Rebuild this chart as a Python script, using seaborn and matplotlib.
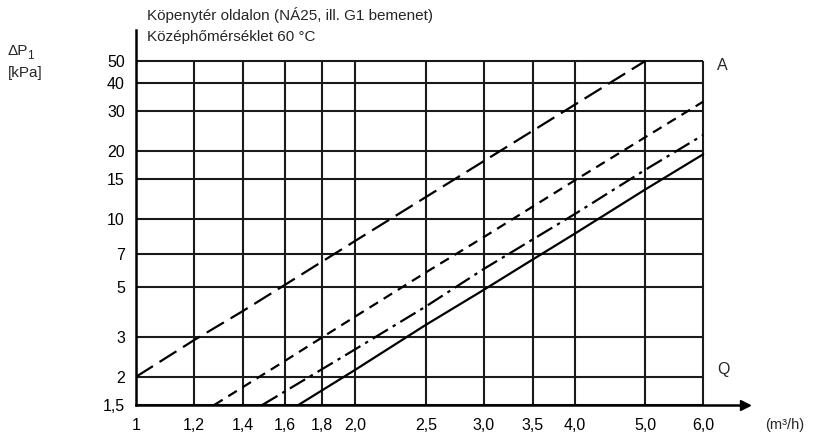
import numpy as np
import pandas as pd
import matplotlib
matplotlib.use("Agg")
import matplotlib.pyplot as plt
from matplotlib.ticker import FixedLocator, NullLocator
import seaborn as sns

# values (Q in m3/h, dP in kPa)
q_a = [1.0, 1.2, 1.4, 1.6, 2.0, 2.5, 3.0, 4.0, 5.0]
dp_a = [2.0, 2.9, 3.9, 5.1, 8.0, 12.5, 18.0, 32.0, 50.0]

q_b = [1.28, 1.6, 2.0, 2.5, 3.0, 4.0, 5.0, 6.0]
dp_b = [1.5, 2.35, 3.7, 5.8, 8.3, 14.8, 23.0, 33.0]

q_c = [1.49, 2.0, 2.5, 3.0, 4.0, 5.0, 6.0]
dp_c = [1.5, 2.65, 4.1, 6.0, 10.5, 16.5, 23.5]

q_d = [1.67, 2.0, 2.5, 3.0, 3.5, 4.0, 5.0, 6.0]
dp_d = [1.5, 2.15, 3.4, 4.85, 6.6, 8.6, 13.5, 19.3]

x_ticks = [1, 1.2, 1.4, 1.6, 1.8, 2.0, 2.5, 3.0, 3.5, 4.0, 5.0, 6.0]
x_labels = ["1", "1,2", "1,4", "1,6", "1,8", "2,0", "2,5", "3,0", "3,5", "4,0", "5,0", "6,0"]
y_ticks = [1.5, 2, 3, 5, 7, 10, 15, 20, 30, 40, 50]
y_labels = ["1,5", "2", "3", "5", "7", "10", "15", "20", "30", "40", "50"]

sns.set_style("white")
plt.rcParams["font.family"] = ["Liberation Sans", "DejaVu Sans"]

fig = plt.figure(figsize=(8.23, 4.4), dpi=100)
ax = fig.add_axes([0.1653, 0.0795, 0.740, 0.852])
ax.set_xscale("log")
ax.set_yscale("log")
ax.set_xlim(1.0, 6.85)
ax.set_ylim(1.5, 68.4)

# grid only over the 1..6 / 1.5..50 area
ax.hlines(y_ticks, 1.0, 6.0, color="#1a1a1a", lw=1.5, zorder=1)
ax.vlines(x_ticks, 1.5, 50, color="#1a1a1a", lw=1.5, zorder=1)

# curves
curves = [
    (q_a, dp_a, (0, (9, 3.5))),
    (q_b, dp_b, (0, (4.5, 3))),
    (q_c, dp_c, (0, (8, 2.5, 1.5, 2.5))),
    (q_d, dp_d, "-"),
]
for q, dp, ls in curves:
    df = pd.DataFrame({"Q": q, "dP": dp})
    sns.lineplot(data=df, x="Q", y="dP", ax=ax, color="black", lw=1.6,
                 linestyle=ls, zorder=3)

ax.xaxis.set_major_locator(FixedLocator(x_ticks))
ax.xaxis.set_minor_locator(NullLocator())
ax.set_xticklabels(x_labels)
ax.yaxis.set_major_locator(FixedLocator(y_ticks))
ax.yaxis.set_minor_locator(NullLocator())
ax.set_yticklabels(y_labels)
ax.tick_params(axis="both", length=5, width=1.5, color="#1a1a1a",
               labelsize=11.5, labelcolor="black", pad=3)
ax.tick_params(axis="x", pad=4)
ax.set_xlabel("")
ax.set_ylabel("")

for s in ["top", "right"]:
    ax.spines[s].set_visible(False)
for s in ["left", "bottom"]:
    ax.spines[s].set_color("black")
    ax.spines[s].set_linewidth(1.8)
ax.plot(1, 0, ">", color="black", ms=7, transform=ax.transAxes, clip_on=False)

fs = 11
fig.text(147 / 823, 1 - 15 / 440, "Köpenytér oldalon (NÁ25, ill. G1 bemenet)",
         fontsize=fs, va="center", ha="left")
fig.text(147 / 823, 1 - 37 / 440, "Középhőmérséklet 60 °C",
         fontsize=fs, va="center", ha="left")
fig.text(8 / 823, 1 - 51 / 440, "ΔP", fontsize=fs, va="center", ha="left")
fig.text(27 / 823, 1 - 56 / 440, "1", fontsize=fs - 2.5, va="center", ha="left")
fig.text(8 / 823, 1 - 73 / 440, "[kPa]", fontsize=fs, va="center", ha="left")
fig.text(717 / 823, 1 - 65 / 440, "A", fontsize=fs + 0.5, va="center", ha="left")
fig.text(717 / 823, 1 - 369 / 440, "Q", fontsize=fs + 0.5, va="center", ha="left")
fig.text(765 / 823, 1 - 425 / 440, "(m³/h)", fontsize=fs - 0.5, va="center", ha="left")

fig.savefig("out.png", dpi=100)
